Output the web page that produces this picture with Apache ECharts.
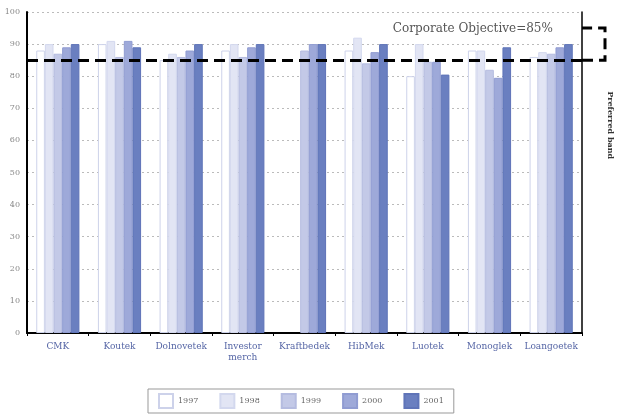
<!DOCTYPE html>
<html><head><meta charset="utf-8">
<script src="https://cdn.jsdelivr.net/npm/echarts@6/dist/echarts.min.js"></script>
<style>html,body{margin:0;padding:0;background:#fff}#c{width:617px;height:415px}</style>
</head><body><div id="c"></div>
<script>
var categories = ['CMK', 'Koutek', 'Dolnovetek', 'Investor\nmerch', 'Kraftbedek', 'HibMek', 'Luotek', 'Monoglek', 'Loangoetek'];
var years = ['1997', '1998', '1999', '2000', '2001'];
var v1997 = [88, 90, 85, 88, null, 88, 80, 88, 86];
var v1998 = [90, 91, 87, 90, null, 92, 90, 88, 87.5];
var v1999 = [87, 86, 86, 86, 88, 84, 84.5, 82, 87];
var v2000 = [89, 91, 88, 89, 90, 87.5, 84.5, 79.5, 89];
var v2001 = [90, 89, 90, 90, 90, 90, 80.5, 89, 90];
var objective = 85;
var bandTop = 95;

var values = [v1997, v1998, v1999, v2000, v2001];
var colors = ['#ffffff', '#e2e5f4', '#c3c9e7', '#9ea9d9', '#6a7fc0'];
var borders = ['#cdd2ea', '#d3d8ee', '#b5bce0', '#909cd2', '#5f74b8'];

var chart = echarts.init(document.getElementById('c'), null, {renderer: 'canvas'});
var series = years.map(function (y, i) {
  var s = {
    name: y, type: 'bar', data: values[i], barGap: '0%', barCategoryGap: '30%',
    itemStyle: {color: colors[i], borderColor: borders[i], borderWidth: 1},
    emphasis: {disabled: true}
  };
  if (i === 0) {
    s.markLine = {
      symbol: 'none', silent: true,
      lineStyle: {color: '#000', width: 3, type: [11, 6]},
      label: {show: false},
      data: [{yAxis: objective}]
    };
  }
  return s;
});

chart.setOption({
  animation: false,
  grid: {left: 27, right: 35, top: 12, bottom: 82},
  legend: {
    left: 148, bottom: 2, itemWidth: 14, itemHeight: 14, itemGap: 21, icon: 'rect',
    borderColor: '#999', borderWidth: 1, padding: [4, 10],
    textStyle: {fontSize: 8, color: '#666', fontFamily: 'DejaVu Serif'},
    data: years
  },
  xAxis: {
    type: 'category', data: categories,
    axisLine: {lineStyle: {color: '#000', width: 2}},
    axisTick: {show: true, length: 3, interval: 0, lineStyle: {color: '#000'}},
    axisLabel: {interval: 0, fontSize: 9, color: '#5565a5', margin: 8, lineHeight: 11, fontFamily: 'DejaVu Serif'}
  },
  yAxis: [{
    type: 'value', min: 0, max: 100, interval: 10,
    axisLine: {show: true, lineStyle: {color: '#000', width: 2}},
    axisTick: {show: false},
    axisLabel: {fontSize: 8, color: '#888', margin: 7, fontFamily: 'DejaVu Serif'},
    splitLine: {show: true, lineStyle: {color: '#bbb', type: [2, 3], width: 1}}
  }, {
    type: 'value', min: 0, max: 100, interval: 10, position: 'right',
    axisLine: {show: true, lineStyle: {color: '#000', width: 1.5}},
    axisTick: {show: false}, axisLabel: {show: false}, splitLine: {show: false}
  }],
  series: series
});

var yObj = chart.convertToPixel({yAxisIndex: 0}, objective);
var yTop = chart.convertToPixel({yAxisIndex: 0}, bandTop);
var step = chart.convertToPixel({xAxisIndex: 0}, categories[1]) - chart.convertToPixel({xAxisIndex: 0}, categories[0]);
var xRight = chart.convertToPixel({xAxisIndex: 0}, categories[categories.length - 1]) + step / 2;
var xLabel = chart.convertToPixel({xAxisIndex: 0}, categories[7]) - step * 0.27;
var y100 = chart.convertToPixel({yAxisIndex: 0}, 100);

chart.setOption({
  graphic: [
    {type: 'polyline', silent: true,
      shape: {points: [[xRight, yObj], [xRight + 23, yObj], [xRight + 23, yTop], [xRight, yTop]]},
      style: {stroke: '#000', lineWidth: 3, lineDash: [11, 6], fill: null}},
    {type: 'text', silent: true, x: xLabel, y: (y100 + yTop) / 2 + 9,
      style: {text: 'Corporate Objective=85%', fontSize: 12, fill: '#555', align: 'center', verticalAlign: 'middle', fontFamily: 'DejaVu Serif'}},
    {type: 'text', silent: true, x: xRight + 28, y: yObj + 65, rotation: -Math.PI / 2,
      style: {text: 'Preferred band', fontSize: 8, fontWeight: 'bold', fill: '#333', align: 'center', verticalAlign: 'middle', fontFamily: 'DejaVu Serif'}}
  ]
});
</script></body></html>
